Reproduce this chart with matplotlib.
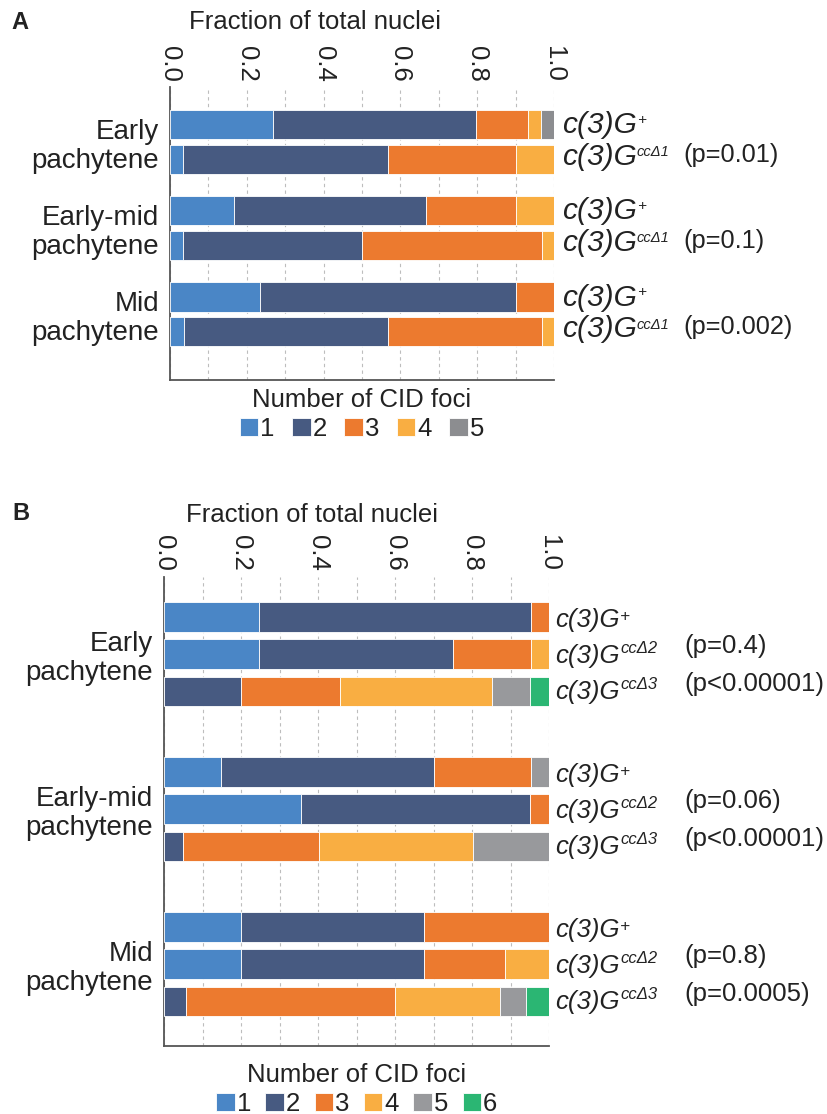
import matplotlib
matplotlib.use("Agg")
import matplotlib.pyplot as plt
import numpy as np
from matplotlib.ticker import MultipleLocator

plt.rcParams['font.family'] = ['Liberation Sans', 'DejaVu Sans']

# ---------------- data ----------------
stages = ["Early\npachytene", "Early-mid\npachytene", "Mid\npachytene"]
foci_labels = ["1", "2", "3", "4", "5", "6"]

# Panel A: rows per stage -> c(3)G+, c(3)G ccD1
a_geno_main = ["c(3)G", "c(3)G"]
a_geno_sup = ["+", "ccΔ1"]
a_pvals = ["", "(p=0.01)", "", "(p=0.1)", "", "(p=0.002)"]
a_f1 = [0.269, 0.034, 0.166, 0.034, 0.234, 0.036]
a_f2 = [0.528, 0.534, 0.501, 0.467, 0.668, 0.533]
a_f3 = [0.135, 0.332, 0.233, 0.467, 0.098, 0.400]
a_f4 = [0.035, 0.100, 0.100, 0.032, 0.000, 0.031]
a_f5 = [0.033, 0.000, 0.000, 0.000, 0.000, 0.000]

# Panel B: rows per stage -> c(3)G+, ccD2, ccD3
b_geno_main = ["c(3)G", "c(3)G", "c(3)G"]
b_geno_sup = ["+", "ccΔ2", "ccΔ3"]
b_pvals = ["", "(p=0.4)", "(p<0.00001)", "", "(p=0.06)", "(p<0.00001)",
           "", "(p=0.8)", "(p=0.0005)"]
b_f1 = [0.245, 0.245, 0.000, 0.147, 0.354, 0.000, 0.198, 0.198, 0.000]
b_f2 = [0.707, 0.506, 0.198, 0.554, 0.596, 0.048, 0.476, 0.476, 0.056]
b_f3 = [0.048, 0.201, 0.258, 0.251, 0.050, 0.353, 0.326, 0.211, 0.543]
b_f4 = [0.000, 0.048, 0.395, 0.000, 0.000, 0.400, 0.000, 0.115, 0.274]
b_f5 = [0.000, 0.000, 0.099, 0.048, 0.000, 0.199, 0.000, 0.000, 0.067]
b_f6 = [0.000, 0.000, 0.050, 0.000, 0.000, 0.000, 0.000, 0.000, 0.061]

colors = ["#4a86c6", "#475a81", "#ec7a2f", "#f9ae42", "#8c8d90", "#2bb673"]
colors_b5 = "#98999c"
TXT = "#222222"
FS = 18.5
LFS = 20


def draw_panel(ax, series, gmain, gsup, pvals, gap, bar_h, ylim, xlabel_xy,
               geno_x, p_x, g_offs, p_offs, g_fs, sup_fs, sup_raise, plus_fs,
               plus_raise, p_fs, col5, leg_anchor, colsp):
    n_g = len(gmain)
    pos = np.array([g * gap + i for g in range(len(stages)) for i in range(n_g)], float)
    left = np.zeros(len(pos))
    for k, vals in enumerate(series):
        c = colors[k] if k != 4 else col5
        ax.barh(pos, vals, left=left, height=bar_h, color=c, edgecolor="white",
                linewidth=0.6, label=foci_labels[k], zorder=3)
        left = left + np.array(vals)
    ax.set_xlim(0, 1.0)
    ax.set_ylim(*ylim)
    ax.invert_yaxis()
    centers = [g * gap + (n_g - 1) / 2 for g in range(len(stages))]
    ax.set_yticks(centers)
    ax.set_yticklabels(stages, fontsize=LFS, ha="right", linespacing=1.15, color=TXT)
    ax.tick_params(axis="y", length=0, pad=8)
    ax.xaxis.tick_top()
    ax.xaxis.set_minor_locator(MultipleLocator(0.1))
    ticks = np.arange(0, 1.01, 0.2)
    ax.set_xticks(ticks)
    ax.set_xticklabels([f"{v:.1f}" for v in ticks], rotation=-90, fontsize=FS)
    ax.tick_params(axis="x", which="both", length=0, pad=4, colors=TXT)
    ax.grid(axis="x", which="both", linestyle=(0, (3, 3)), color="#bdbdbd",
            linewidth=0.8, zorder=0)
    for s in ["top", "right"]:
        ax.spines[s].set_visible(False)
    for s in ["left", "bottom"]:
        ax.spines[s].set_color("#555555")
        ax.spines[s].set_linewidth(1.3)
    ax.set_xlabel("Fraction of total nuclei", fontsize=FS, color=TXT)
    ax.xaxis.set_label_position("top")
    ax.xaxis.set_label_coords(*xlabel_xy)
    ax.xaxis.label.set_va("baseline")
    trans = ax.get_yaxis_transform()
    for i, y in enumerate(pos):
        j = i % n_g
        yb = y + g_offs[j]
        t = ax.text(geno_x, yb, gmain[j], transform=trans,
                    fontsize=g_fs, style="italic", va="baseline", ha="left",
                    color=TXT)
        if gsup[j] == "+":
            sfs, rz = plus_fs, plus_raise
        else:
            sfs, rz = sup_fs, sup_raise
        ax.annotate(gsup[j], xy=(1.0, yb), xycoords=(t, ax.transData),
                    xytext=(0.3, rz), textcoords="offset points", fontsize=sfs,
                    style="italic", va="baseline", ha="left", color=TXT)
        if pvals[i]:
            ax.text(p_x, y + p_offs, pvals[i], transform=trans,
                    fontsize=p_fs, va="baseline", ha="left", color=TXT)
    leg = ax.legend(title="Number of CID foci", ncol=len(series),
                    loc="upper center", bbox_to_anchor=leg_anchor, frameon=False,
                    fontsize=FS, title_fontsize=FS, handlelength=0.72,
                    handleheight=0.72, handletextpad=0.08, columnspacing=colsp,
                    borderaxespad=0, borderpad=0.2, labelspacing=0.2)
    for tx in leg.get_texts():
        tx.set_color(TXT)
    leg.get_title().set_color(TXT)
    return ax


fig = plt.figure(figsize=(8.27, 11.14), dpi=100)
W, H = 827.0, 1114.0

axA = fig.add_axes([170 / W, 1 - 380 / H, 384 / W, 293 / H])
draw_panel(axA, [a_f1, a_f2, a_f3, a_f4, a_f5], a_geno_main, a_geno_sup, a_pvals,
           gap=2.48, bar_h=0.84, ylim=(-1.08, 6 + 1.35),
           xlabel_xy=(0.378, 1.198), geno_x=1.02, p_x=1.336,
           g_offs=[0.25, 0.15], p_offs=0.08, g_fs=21.5, sup_fs=10.5,
           sup_raise=6.0, plus_fs=11, plus_raise=7.0,
           p_fs=18.3, col5=colors[4], leg_anchor=(0.5, -0.01), colsp=0.68)
fig.text(11 / W, 1 - 29 / H, "A", fontsize=17, fontweight="bold", color=TXT)

axB = fig.add_axes([164.3 / W, 1 - 1046 / H, 385 / W, 469.3 / H])
draw_panel(axB, [b_f1, b_f2, b_f3, b_f4, b_f5, b_f6], b_geno_main, b_geno_sup,
           b_pvals, gap=4.16, bar_h=0.79, ylim=(-1.08, 10.32 + 1.2),
           xlabel_xy=(0.384, 1.117), geno_x=1.015, p_x=1.352,
           g_offs=[0.27, 0.25, 0.21], p_offs=-0.02, g_fs=18.5, sup_fs=12,
           sup_raise=7.5, plus_fs=12.3, plus_raise=4.4,
           p_fs=18.5, col5=colors_b5, leg_anchor=(0.5, -0.025), colsp=0.56)
fig.text(12 / W, 1 - 520 / H, "B", fontsize=17, fontweight="bold", color=TXT)

fig.savefig("out.png", dpi=100)
